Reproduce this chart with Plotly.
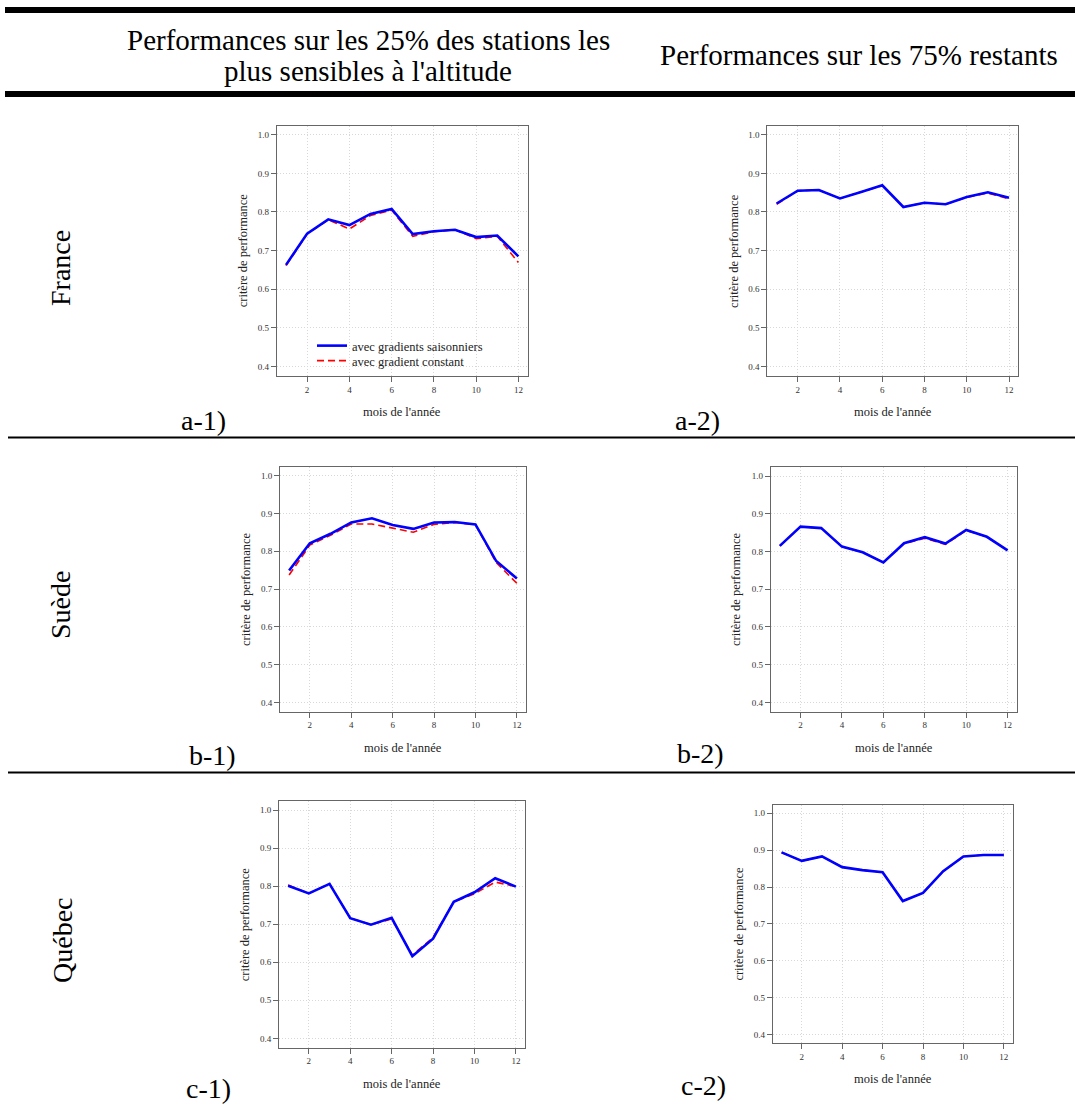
import plotly.graph_objects as go

# ---------------- data ----------------
months = list(range(1, 13))
x_ticks = [2, 4, 6, 8, 10, 12]
y_ticks = [0.4, 0.5, 0.6, 0.7, 0.8, 0.9, 1.0]
y_tick_labels = ["0.4", "0.5", "0.6", "0.7", "0.8", "0.9", "1.0"]

series_names = ["avec gradients saisonniers", "avec gradient constant"]

# France
fr_sens_seas = [0.663, 0.744, 0.781, 0.766, 0.795, 0.808, 0.743, 0.750, 0.754, 0.735, 0.739, 0.685]
fr_sens_cons = [0.661, 0.743, 0.780, 0.756, 0.791, 0.805, 0.737, 0.749, 0.754, 0.731, 0.737, 0.669]
fr_rest_seas = [0.822, 0.855, 0.857, 0.835, 0.852, 0.869, 0.813, 0.824, 0.820, 0.839, 0.851, 0.837]
fr_rest_cons = [0.820, 0.855, 0.857, 0.835, 0.852, 0.868, 0.813, 0.824, 0.820, 0.838, 0.849, 0.834]
# Suède
se_sens_seas = [0.749, 0.821, 0.846, 0.876, 0.887, 0.869, 0.859, 0.876, 0.877, 0.871, 0.774, 0.728]
se_sens_cons = [0.737, 0.816, 0.842, 0.872, 0.872, 0.861, 0.850, 0.871, 0.876, 0.870, 0.770, 0.715]
se_rest_seas = [0.815, 0.866, 0.862, 0.813, 0.798, 0.771, 0.822, 0.838, 0.821, 0.857, 0.839, 0.803]
se_rest_cons = [0.815, 0.866, 0.862, 0.813, 0.798, 0.771, 0.821, 0.835, 0.819, 0.856, 0.839, 0.803]
# Québec
qc_sens_seas = [0.801, 0.781, 0.806, 0.716, 0.699, 0.717, 0.616, 0.662, 0.759, 0.784, 0.821, 0.799]
qc_sens_cons = [0.803, 0.781, 0.806, 0.716, 0.699, 0.714, 0.619, 0.665, 0.759, 0.780, 0.811, 0.799]
qc_rest_seas = [0.894, 0.871, 0.883, 0.854, 0.846, 0.840, 0.762, 0.784, 0.843, 0.883, 0.887, 0.887]
qc_rest_cons = [0.894, 0.871, 0.883, 0.854, 0.846, 0.840, 0.762, 0.784, 0.843, 0.883, 0.887, 0.887]

col_header_left = ["Performances sur les 25% des stations les", "plus sensibles à l'altitude"]
col_header_right = "Performances sur les 75% restants"
row_labels = ["France", "Suède", "Québec"]
panel_labels = ["a-1)", "a-2)", "b-1)", "b-2)", "c-1)", "c-2)"]
x_title = "mois de l'année"
y_title = "critère de performance"

# ---------------- layout geometry (pixels) ----------------
W, H = 1075, 1106
FONT = "Liberation Serif, Times New Roman, serif"

panels = [
    # (left, right, top, bottom), seasonal, constant, showlegend
    ((276.7, 527.7, 125.5, 375.7), fr_sens_seas, fr_sens_cons, True),
    ((767.3, 1018.3, 125.5, 375.7), fr_rest_seas, fr_rest_cons, False),
    ((280.0, 526.0, 466.5, 711.5), se_sens_seas, se_sens_cons, False),
    ((770.7, 1016.7, 467.0, 711.5), se_rest_seas, se_rest_cons, False),
    ((279.0, 525.0, 801.0, 1047.5), qc_sens_seas, qc_sens_cons, False),
    ((772.7, 1012.7, 804.5, 1043.3), qc_rest_seas, qc_rest_cons, False),
]
label_pos = [(203, 420), (697, 420), (212, 755), (700, 753), (208, 1088), (703, 1085)]
row_pos = [(60, 268), (60, 605), (62, 940)]

def px(x):
    return x / W

def py(y):
    return 1 - y / H

fig = go.Figure()
annotations = []

for i, ((l, r, t, b), seas, cons, leg) in enumerate(panels):
    n = "" if i == 0 else str(i + 1)
    xa, ya = "x" + n, "y" + n
    fig.add_trace(go.Scatter(x=months, y=cons, mode="lines", xaxis=xa, yaxis=ya,
                             name=series_names[1], showlegend=leg, legend="legend2",
                             line=dict(color="#ff0000", width=1.6, dash="7px,4px")))
    fig.add_trace(go.Scatter(x=months, y=seas, mode="lines", xaxis=xa, yaxis=ya,
                             name=series_names[0], showlegend=leg, legend="legend",
                             line=dict(color="#0000ff", width=2.6)))
    axis_common = dict(showline=True, mirror=True, linecolor="#666666", linewidth=1,
                       ticks="outside", ticklen=5, tickcolor="#666666",
                       showgrid=True, gridcolor="#d8d8d8", griddash="1px,2px", gridwidth=1,
                       zeroline=False,
                       tickfont=dict(family=FONT, size=9, color="#333333"))
    fig.layout["xaxis" + n] = dict(axis_common, domain=[px(l), px(r)], anchor=ya,
                                   range=[0.56, 12.44], tickvals=x_ticks)
    fig.layout["yaxis" + n] = dict(axis_common, domain=[py(b), py(t)], anchor=xa,
                                   range=[0.376, 1.024], tickvals=y_ticks,
                                   ticktext=y_tick_labels)
    # axis titles
    annotations.append(dict(text=x_title, x=px((l + r) / 2), y=py(b + 36),
                            xref="paper", yref="paper", showarrow=False,
                            xanchor="center", yanchor="middle",
                            font=dict(family=FONT, size=12.5, color="#222222")))
    annotations.append(dict(text=y_title, x=px(l - 34), y=py((t + b) / 2),
                            xref="paper", yref="paper", showarrow=False, textangle=-90,
                            xanchor="center", yanchor="middle",
                            font=dict(family=FONT, size=12.5, color="#222222")))
    lx, ly = label_pos[i]
    annotations.append(dict(text=panel_labels[i], x=px(lx), y=py(ly),
                            xref="paper", yref="paper", showarrow=False,
                            xanchor="center", yanchor="middle",
                            font=dict(family=FONT, size=28, color="#000000")))

for (rx, ry), lab in zip(row_pos, row_labels):
    annotations.append(dict(text=lab, x=px(rx), y=py(ry), xref="paper", yref="paper",
                            showarrow=False, textangle=-90, xanchor="center", yanchor="middle",
                            font=dict(family=FONT, size=28, color="#000000")))

for txt, yy in zip(col_header_left, [40, 71]):
    annotations.append(dict(text=txt, x=px(368), y=py(yy), xref="paper", yref="paper",
                            showarrow=False, xanchor="center", yanchor="middle",
                            font=dict(family=FONT, size=29, color="#000000")))
annotations.append(dict(text=col_header_right, x=px(859), y=py(55), xref="paper", yref="paper",
                        showarrow=False, xanchor="center", yanchor="middle",
                        font=dict(family=FONT, size=29, color="#000000")))

shapes = [
    dict(type="line", xref="paper", yref="paper", x0=px(5), x1=1, y0=py(10), y1=py(10),
         line=dict(color="black", width=6)),
    dict(type="line", xref="paper", yref="paper", x0=px(5), x1=1, y0=py(94), y1=py(94),
         line=dict(color="black", width=6)),
    dict(type="line", xref="paper", yref="paper", x0=px(8), x1=1, y0=py(437.5), y1=py(437.5),
         line=dict(color="black", width=2)),
    dict(type="line", xref="paper", yref="paper", x0=px(8), x1=1, y0=py(772.5), y1=py(772.5),
         line=dict(color="black", width=2)),
]

legend_common = dict(xanchor="left", yanchor="middle", bgcolor="rgba(0,0,0,0)", borderwidth=0,
                     font=dict(family=FONT, size=12.5, color="#222222"), itemwidth=30)

fig.update_layout(
    width=W, height=H, margin=dict(l=0, r=0, t=0, b=0),
    paper_bgcolor="white", plot_bgcolor="white",
    annotations=annotations, shapes=shapes,
    showlegend=True,
    legend=dict(legend_common, x=px(312), y=py(346)),
    legend2=dict(legend_common, x=px(312), y=py(361)),
)

fig.write_html("out.html", config={"displayModeBar": False},
               post_script="document.body.style.margin='0';")
